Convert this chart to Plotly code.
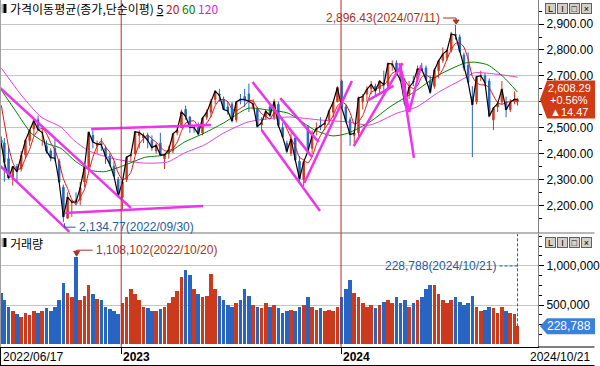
import pandas as pd
import plotly.graph_objects as go

# ---------------- data (weekly candles) ----------------
first_day = "2022-06-17"
last_day = "2024-10-21"
week_mid = pd.date_range("2022-06-22", "2024-10-16", freq="7D")
dates = [pd.Timestamp(first_day)] + list(week_mid) + [pd.Timestamp(last_day)]

open_ = [
    2452,
    2441, 2380, 2310, 2350, 2340, 2395,
    2450, 2495, 2530, 2480,
    2430, 2410, 2420, 2370, 2270,
    2150, 2210, 2220, 2220,
    2290, 2350, 2470, 2430,
    2440, 2420, 2390, 2350, 2300,
    # 2023
    2230, 2300, 2390, 2400,
    2470, 2460, 2470, 2450,
    2410, 2440, 2380, 2400, 2410,
    2480, 2500, 2570, 2540,
    2500, 2500, 2480, 2540,
    2560, 2610, 2630, 2610, 2580,
    2590, 2530, 2610, 2620,
    2630, 2580, 2570, 2510,
    2540, 2580, 2540, 2590, 2500,
    2440, 2400, 2460, 2370,
    2300, 2500, 2420, 2490,
    2510, 2510, 2530, 2560, 2600,
    # 2024
    2680, 2580, 2530, 2470,
    2480, 2600, 2630, 2650,
    2660, 2650, 2670, 2660, 2740,
    2750, 2720, 2670, 2630,
    2680, 2690, 2730, 2730, 2680,
    2660, 2720, 2760, 2770,
    2800, 2860, 2850, 2780,
    2740, 2620, 2600, 2700, 2700,
    2680, 2530, 2580, 2600,
    2600, 2570, 2600,
    2600,
]
high = [
    2466,
    2460, 2427, 2350, 2360, 2410, 2455,
    2490, 2530, 2546, 2500,
    2450, 2420, 2460, 2380, 2280,
    2250, 2220, 2250, 2290,
    2350, 2483, 2490, 2450,
    2460, 2430, 2400, 2370, 2310,
    # 2023
    2290, 2390, 2400, 2485,
    2490, 2480, 2480, 2470,
    2440, 2480, 2400, 2430, 2480,
    2510, 2570, 2585, 2545,
    2510, 2520, 2540, 2570,
    2610, 2640, 2650, 2620, 2600,
    2600, 2600, 2630, 2650,
    2670, 2610, 2580, 2540,
    2570, 2590, 2610, 2600, 2520,
    2450, 2480, 2470, 2390,
    2370, 2510, 2490, 2520,
    2540, 2530, 2570, 2600, 2660,
    # 2024
    2685, 2590, 2540, 2490,
    2620, 2630, 2660, 2680,
    2670, 2680, 2720, 2750, 2760,
    2760, 2730, 2690, 2680,
    2700, 2740, 2750, 2740, 2700,
    2730, 2760, 2810, 2800,
    2870, 2896.43, 2860, 2790,
    2790, 2660, 2700, 2720, 2710,
    2690, 2580, 2600, 2680,
    2620, 2610, 2640,
    2615,
]
low = [
    2420,
    2291, 2300, 2276, 2290, 2330, 2380,
    2430, 2470, 2490, 2430,
    2400, 2370, 2370, 2290, 2134.77,
    2150, 2155, 2200, 2200,
    2270, 2340, 2420, 2400,
    2410, 2360, 2350, 2310, 2230,
    # 2023
    2180, 2290, 2370, 2395,
    2420, 2440, 2420, 2410,
    2400, 2390, 2340, 2380, 2400,
    2470, 2500, 2530, 2480,
    2480, 2470, 2470, 2530,
    2540, 2590, 2600, 2570, 2550,
    2520, 2520, 2590, 2580,
    2560, 2570, 2500, 2490,
    2530, 2540, 2530, 2500, 2460,
    2400, 2390, 2370, 2290,
    2273, 2410, 2400, 2470,
    2490, 2490, 2510, 2540, 2600,
    # 2024
    2570, 2520, 2430, 2440,
    2460, 2570, 2600, 2630,
    2620, 2630, 2630, 2650, 2720,
    2700, 2680, 2584, 2610,
    2660, 2680, 2720, 2680, 2630,
    2650, 2690, 2750, 2760,
    2790, 2840, 2790, 2720,
    2670, 2386, 2590, 2680, 2660,
    2540, 2490, 2560, 2590,
    2540, 2560, 2590,
    2585,
]
close = [
    2440,
    2366, 2305, 2350, 2330, 2393, 2451,
    2490, 2527, 2492, 2481,
    2409, 2384, 2382, 2290, 2155,
    2232, 2212, 2213, 2268,
    2348, 2483, 2444, 2437,
    2434, 2389, 2360, 2313, 2236,
    # 2023
    2290, 2386, 2395, 2484,
    2481, 2469, 2451, 2423,
    2432, 2395, 2395, 2415, 2476,
    2490, 2561, 2544, 2501,
    2500, 2475, 2537, 2559,
    2601, 2641, 2625, 2570, 2564,
    2526, 2599, 2609, 2608,
    2602, 2591, 2504, 2519,
    2563, 2547, 2601, 2508, 2465,
    2408, 2456, 2375, 2302,
    2368, 2409, 2469, 2496,
    2505, 2517, 2563, 2599, 2655,
    # 2024
    2578, 2525, 2473, 2478,
    2615, 2620, 2648, 2667,
    2642, 2680, 2666, 2748, 2746,
    2714, 2681, 2591, 2656,
    2676, 2727, 2724, 2687, 2636,
    2722, 2758, 2784, 2798,
    2862, 2857, 2795, 2731,
    2676, 2588, 2697, 2701, 2674,
    2544, 2575, 2593, 2649,
    2569, 2597, 2610,
    2608.29,
]
prior_close = [2638, 2670, 2595]   # weeks before the first visible candle

volume = [
    650000,
    560000, 480000, 420000, 380000, 350000, 400000,
    370000, 420000, 400000, 430000,
    460000, 420000, 480000, 560000, 780000,
    650000, 600000, 1108102, 560000,
    620000, 750000, 640000, 580000,
    560000, 480000, 450000, 420000, 380000,
    # 2023
    520000, 600000, 700000, 640000,
    560000, 480000, 460000, 420000,
    430000, 450000, 480000, 520000, 600000,
    680000, 850000, 950000, 880000,
    700000, 640000, 600000, 620000,
    900000, 700000, 620000, 560000, 500000,
    480000, 520000, 560000, 700000,
    620000, 500000, 480000, 460000,
    520000, 480000, 500000, 460000, 400000,
    420000, 440000, 430000, 470000,
    500000, 600000, 480000, 440000,
    460000, 430000, 440000, 420000, 480000,
    # 2024
    600000, 700000, 820000, 650000,
    600000, 520000, 480000, 500000,
    460000, 500000, 540000, 560000, 520000,
    600000, 520000, 560000, 480000,
    520000, 560000, 600000, 700000, 760000,
    750000, 640000, 560000, 520000,
    560000, 600000, 540000, 500000,
    520000, 620000, 480000, 430000, 440000,
    480000, 460000, 400000, 480000,
    420000, 400000, 380000,
    228788,
]

ma60_dates = ["2022-06-17", "2022-07-12", "2022-08-05", "2022-08-30", "2022-09-24",
              "2022-10-18", "2022-11-12", "2022-12-06", "2023-01-08", "2023-02-10",
              "2023-03-15", "2023-04-17", "2023-05-20", "2023-06-21", "2023-08-01",
              "2023-09-03", "2023-10-06", "2023-11-19", "2023-12-19", "2024-01-13",
              "2024-02-19", "2024-03-23", "2024-05-02", "2024-06-12", "2024-07-25",
              "2024-08-10", "2024-09-02", "2024-09-28", "2024-10-21"]
ma60_vals = [2645, 2560, 2480, 2440, 2420, 2370, 2335, 2330, 2355, 2385,
             2395, 2444, 2479, 2518, 2575, 2568, 2556, 2491, 2468, 2478,
             2522, 2580, 2637, 2703, 2749, 2753, 2742, 2695, 2637]

ma120_dates = ["2022-06-17", "2022-07-20", "2022-08-22", "2022-09-24", "2022-10-15",
               "2022-11-07", "2022-11-28", "2022-12-31", "2023-02-10", "2023-03-20",
               "2023-04-17", "2023-05-20", "2023-06-21", "2023-08-01", "2023-10-06",
               "2023-11-30", "2024-01-13", "2024-02-19", "2024-04-04", "2024-05-07",
               "2024-06-12", "2024-07-25", "2024-08-10", "2024-09-02", "2024-09-28",
               "2024-10-21"]
ma120_vals = [2730, 2626, 2541, 2502, 2452, 2413, 2394, 2375, 2363, 2367,
              2402, 2433, 2479, 2522, 2541, 2529, 2522, 2510, 2556, 2580,
              2637, 2691, 2712, 2710, 2703, 2695]

# hand-drawn trend lines: (start date, start price, end date, end price)
trend_lines = [
    ("2022-06-15", 2653, "2023-01-18", 2190),
    ("2022-06-15", 2352, "2022-10-08", 2097),
    ("2022-11-13", 2495, "2023-05-31", 2510),
    ("2022-09-30", 2170, "2023-05-18", 2197),
    ("2023-08-08", 2676, "2023-11-15", 2386),
    ("2023-08-23", 2491, "2023-11-28", 2178),
    ("2023-09-23", 2614, "2023-11-26", 2444),
    ("2023-11-02", 2286, "2024-01-20", 2680),
    ("2024-01-23", 2429, "2024-04-13", 2749),
    ("2024-02-17", 2607, "2024-03-29", 2661),
    ("2024-04-08", 2749, "2024-05-02", 2383),
    ("2024-04-09", 2745, "2024-04-24", 2560),
    ("2024-04-24", 2560, "2024-05-14", 2741),
]

year_starts = ["2023-01-02", "2024-01-02"]
year_labels = ["2023", "2024"]
peak_date, peak_price = "2024-07-11", 2896.43
trough_date, trough_price = "2022-09-30", 2134.77
vol_peak_date, vol_peak = "2022-10-20", 1108102
price_ticks = [2200, 2300, 2400, 2500, 2600, 2700, 2800, 2900]
vol_ticks = [500000, 1000000]
change_pct, change_abs = 0.56, 14.47

# ---------------- styling ----------------
UP = "#cc3a1e"
DN = "#2864c2"
MAG = "#ee33ee"
DARKRED = "#a8321f"
BLUE_TXT = "#2a5aa0"
KFONT = "Noto Sans CJK KR"
LFONT = "Liberation Sans"

PW, PH = 543.0, 347.0           # plot area in px
price_dom = [(PH - 233) / PH, 1]
vol_dom = [0, (PH - 234) / PH]
price_range = [2093, 2993]
vol_range = [-34000, 1403000]
x_range = ["2022-06-14 19:00", "2024-11-24 00:00"]


def px(xp):
    return xp / PW


def py(yp):
    return (PH - yp) / PH


last_close = close[-1]
last_vol = volume[-1]

ma5 = pd.Series(close)
ma20 = pd.Series(prior_close + close).rolling(4).mean().iloc[len(prior_close):]

fig = go.Figure()

fig.add_trace(go.Candlestick(
    x=dates, open=open_, high=high, low=low, close=close,
    increasing=dict(line=dict(color=UP, width=1), fillcolor=UP),
    decreasing=dict(line=dict(color=DN, width=1), fillcolor=DN),
    whiskerwidth=0, xaxis="x", yaxis="y", hoverinfo="skip", showlegend=False))

fig.add_trace(go.Scatter(x=ma120_dates, y=ma120_vals, mode="lines", yaxis="y",
                         line=dict(color="#e040e0", width=1, shape="spline", smoothing=0.6),
                         hoverinfo="skip"))
fig.add_trace(go.Scatter(x=ma60_dates, y=ma60_vals, mode="lines", yaxis="y",
                         line=dict(color="#008000", width=1, shape="spline", smoothing=0.6),
                         hoverinfo="skip"))
fig.add_trace(go.Scatter(x=dates, y=list(ma20), mode="lines", yaxis="y",
                         line=dict(color="#e01010", width=1, shape="spline", smoothing=0.5),
                         hoverinfo="skip"))
fig.add_trace(go.Scatter(x=dates, y=list(ma5), mode="lines", yaxis="y",
                         line=dict(color="#000000", width=1.2), hoverinfo="skip"))

vol_colors = [UP if c >= o else DN for o, c in zip(open_, close)]
fig.add_trace(go.Bar(x=dates, y=volume, yaxis="y2", marker=dict(color=vol_colors, line=dict(width=0)),
                     width=6 * 86400000, hoverinfo="skip"))

shapes = []
for d0, p0, d1, p1 in trend_lines:
    shapes.append(dict(type="line", xref="x", yref="y", x0=d0, y0=p0, x1=d1, y1=p1,
                       line=dict(color=MAG, width=2.5), layer="above"))

for d in year_starts:
    shapes.append(dict(type="line", xref="x", yref="paper", x0=d, x1=d, y0=0, y1=1,
                       line=dict(color="#cc2020", width=1), layer="above"))

# panel separator / frame lines
shapes += [
    dict(type="line", xref="paper", yref="paper", x0=0, x1=600 / PW, y0=price_dom[0], y1=price_dom[0],
         line=dict(color="#707070", width=1)),
    dict(type="line", xref="paper", yref="paper", x0=1, x1=600 / PW, y0=0, y1=0,
         line=dict(color="black", width=1)),
    dict(type="line", xref="paper", yref="paper", x0=0, x1=600 / PW, y0=py(365.5), y1=py(365.5),
         line=dict(color="black", width=1)),
    dict(type="line", xref="paper", yref="paper", x0=px(0.5), x1=px(0.5), y0=py(365.5), y1=0,
         line=dict(color="black", width=1)),
    dict(type="line", xref="paper", yref="paper", x0=px(0.5), x1=px(0.5), y0=0, y1=1,
         line=dict(color="#a0a0a0", width=1)),
]

# small panel icons
for ytop in (4, 238):
    shapes.append(dict(type="rect", xref="paper", yref="paper", x0=px(1.5), x1=px(3.5),
                       y0=py(ytop + 9), y1=py(ytop), fillcolor="#b0b0b0", line=dict(width=0)))
    shapes.append(dict(type="rect", xref="paper", yref="paper", x0=px(3.5), x1=px(6.5),
                       y0=py(ytop + 9), y1=py(ytop), fillcolor="black", line=dict(width=0)))

# peak marker: connector + arrow
shapes.append(dict(type="path", xref="x", yref="y", xsizemode="pixel", ysizemode="pixel",
                   xanchor=peak_date, yanchor=peak_price, path="M-13,7 L0,7 L0,4",
                   line=dict(color=DARKRED, width=1)))
shapes.append(dict(type="path", xref="x", yref="y", xsizemode="pixel", ysizemode="pixel",
                   xanchor=peak_date, yanchor=peak_price, path="M-3,5 L3,5 L0,1 Z",
                   fillcolor=DARKRED, line=dict(color=DARKRED, width=1)))
# trough marker
shapes.append(dict(type="path", xref="x", yref="y", xsizemode="pixel", ysizemode="pixel",
                   xanchor=trough_date, yanchor=trough_price, path="M11,-5 L0,-5 L0,-1",
                   line=dict(color=BLUE_TXT, width=1)))
# volume peak marker
shapes.append(dict(type="path", xref="x", yref="y2", xsizemode="pixel", ysizemode="pixel",
                   xanchor=vol_peak_date, yanchor=vol_peak, path="M16,7 L0,7 L0,5",
                   line=dict(color=DARKRED, width=1)))
shapes.append(dict(type="path", xref="x", yref="y2", xsizemode="pixel", ysizemode="pixel",
                   xanchor=vol_peak_date, yanchor=vol_peak, path="M-3,6 L3,6 L0,1 Z",
                   fillcolor=DARKRED, line=dict(color=DARKRED, width=1)))
# last-volume dashed guides
lastlab_y = py(266)
shapes.append(dict(type="line", xref="x", yref="y2", x0=last_day, x1=last_day,
                   y0=last_vol, y1=vol_range[1], line=dict(color=BLUE_TXT, width=1, dash="3px,2px")))
shapes.append(dict(type="line", xref="x", yref="paper", xsizemode="pixel", xanchor=last_day,
                   x0=-18, x1=0, y0=lastlab_y, y1=lastlab_y,
                   line=dict(color=BLUE_TXT, width=1, dash="3px,2px")))

# current price / volume boxes
shapes.append(dict(type="path", xref="paper", yref="y", xsizemode="pixel", ysizemode="pixel",
                   xanchor=1, yanchor=last_close, path="M2,0 L9,-19 L57,-19 L57,19 L9,19 Z",
                   fillcolor="#d03a14", line=dict(width=0), layer="above"))
shapes.append(dict(type="path", xref="paper", yref="y2", xsizemode="pixel", ysizemode="pixel",
                   xanchor=1, yanchor=last_vol, path="M2,0 L9,-8 L57,-8 L57,8 L9,8 Z",
                   fillcolor="#3a80dc", line=dict(width=0), layer="above"))

ann = []
legend_txt = ("가격이동평균(종가,단순이평) <u>5</u> "
              "<span style='color:#d01010'>20</span> "
              "<span style='color:#008000'>60</span> "
              "<span style='color:#e020e0'>120</span>")
ann.append(dict(xref="paper", yref="paper", x=px(8), y=py(8.5), xanchor="left", yanchor="middle",
                text=legend_txt, showarrow=False, font=dict(family=KFONT, size=12, color="black")))
ann.append(dict(xref="paper", yref="paper", x=px(8), y=py(243), xanchor="left", yanchor="middle",
                text="거래량", showarrow=False, font=dict(family=KFONT, size=12, color="black")))

ann.append(dict(xref="x", yref="y", x=peak_date, y=peak_price, xanchor="right", yanchor="middle",
                xshift=-14, yshift=7, showarrow=False,
                text=f"{peak_price:,.2f}({pd.Timestamp(peak_date):%Y/%m/%d})",
                font=dict(family=LFONT, size=12, color=DARKRED)))
ann.append(dict(xref="x", yref="y", x=trough_date, y=trough_price, xanchor="left", yanchor="middle",
                xshift=12, yshift=-5, showarrow=False,
                text=f"{trough_price:,.2f}({pd.Timestamp(trough_date):%Y/%m/%d})",
                font=dict(family=LFONT, size=12, color=BLUE_TXT)))
ann.append(dict(xref="x", yref="y2", x=vol_peak_date, y=vol_peak, xanchor="left", yanchor="middle",
                xshift=17, yshift=7, showarrow=False,
                text=f"{vol_peak:,}({pd.Timestamp(vol_peak_date):%Y/%m/%d})",
                font=dict(family=LFONT, size=12, color=DARKRED)))
ann.append(dict(xref="x", yref="paper", x=last_day, y=lastlab_y, xanchor="right", yanchor="middle",
                xshift=-20, showarrow=False,
                text=f"{last_vol:,}({pd.Timestamp(last_day):%Y/%m/%d})",
                font=dict(family=LFONT, size=12, color=BLUE_TXT)))

for txt, dy in ((f"{last_close:,.2f}", 12), (f"+{change_pct:.2f}%", 0), (f"▲{change_abs:.2f}", -12)):
    ann.append(dict(xref="paper", yref="y", x=1, y=last_close, xshift=31, yshift=dy,
                    xanchor="center", yanchor="middle", showarrow=False, text=txt,
                    font=dict(family=LFONT, size=11, color="white")))
ann.append(dict(xref="paper", yref="y2", x=1, y=last_vol, xshift=31, xanchor="center",
                yanchor="middle", showarrow=False, text=f"{last_vol:,}",
                font=dict(family=LFONT, size=12, color="white")))

# window buttons
for ytop in (3, 237):
    for i, sym in enumerate(["L", "I", "□", "×"]):
        ann.append(dict(xref="paper", yref="paper", x=px(556 + 12 * i), y=py(ytop + 5.5),
                        xanchor="center", yanchor="middle", showarrow=False, text=sym,
                        width=9, height=9, bgcolor="#d4d0c8", bordercolor="#606060", borderwidth=1,
                        borderpad=0, font=dict(family=LFONT, size=9, color="black")))

# x-axis labels
ann.append(dict(xref="paper", yref="paper", x=px(1), y=py(356.5), xanchor="left", yanchor="middle",
                showarrow=False, text=pd.Timestamp(first_day).strftime("%Y/%m/%d"),
                font=dict(family=LFONT, size=12, color="black")))
for d, lab in zip(year_starts, year_labels):
    ann.append(dict(xref="x", yref="paper", x=d, y=py(356.5), xanchor="left", yanchor="middle",
                    xshift=0, showarrow=False, text=f"<b>{lab}</b>",
                    font=dict(family=LFONT, size=12, color="black")))
ann.append(dict(xref="paper", yref="paper", x=598 / PW, y=py(356.5), xanchor="right", yanchor="middle",
                showarrow=False, text=pd.Timestamp(last_day).strftime("%Y/%m/%d"),
                font=dict(family=LFONT, size=12, color="black")))

price_text = ["" if v == 2600 else f"{v:,.2f}" for v in price_ticks]
price_minor = [v + 50 for v in range(2100, 2950, 100)]
vol_minor = [125000, 250000, 375000, 625000, 750000, 875000, 1125000, 1250000, 1375000]

fig.update_layout(
    width=600, height=366, margin=dict(l=0, r=57, t=0, b=19),
    paper_bgcolor="white", plot_bgcolor="white", showlegend=False,
    font=dict(family=LFONT, size=12, color="black"),
    bargap=0,
    xaxis=dict(type="date", range=x_range, anchor="y2", showgrid=False, showticklabels=False,
               tickmode="array", tickvals=year_starts, ticks="outside", ticklen=6, tickcolor="black",
               showline=True, linecolor="black", linewidth=1, zeroline=False,
               rangeslider=dict(visible=False), fixedrange=True),
    yaxis=dict(domain=price_dom, range=price_range, side="right", anchor="x",
               tickmode="array", tickvals=price_ticks, ticktext=price_text,
               ticks="outside", ticklen=5, tickcolor="black",
               showgrid=True, gridcolor="#c6c6c6", gridwidth=1, zeroline=False,
               showline=True, linecolor="#808080", linewidth=1,
               tickfont=dict(family=LFONT, size=12, color="black"),
               minor=dict(tickmode="array", tickvals=price_minor, ticks="outside", ticklen=3,
                          tickcolor="black", showgrid=False)),
    yaxis2=dict(domain=vol_dom, range=vol_range, side="right", anchor="x",
                tickmode="array", tickvals=vol_ticks, ticktext=[f"{v:,}" for v in vol_ticks],
                ticks="outside", ticklen=5, tickcolor="black",
                showgrid=True, gridcolor="#c6c6c6", gridwidth=1, zeroline=False,
                showline=True, linecolor="#808080", linewidth=1,
                tickfont=dict(family=LFONT, size=12, color="black"),
                minor=dict(tickmode="array", tickvals=vol_minor, ticks="outside", ticklen=3,
                           tickcolor="black", showgrid=False)),
    shapes=shapes,
    annotations=ann,
)

fig.write_html("out.html", config={"displayModeBar": False, "staticPlot": True},
               post_script="document.body.style.margin='0';document.body.style.overflow='hidden';")
